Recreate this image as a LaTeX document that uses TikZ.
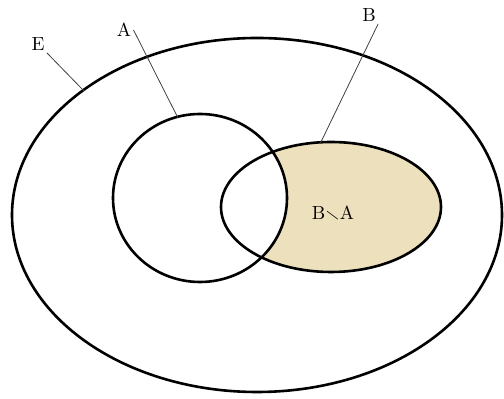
\documentclass[tikz,border=0pt]{standalone}
\usepackage{amssymb}
\usepackage{tikz}
\definecolor{sand}{RGB}{237,224,189}

\begin{document}
\begin{tikzpicture}[x=0.5pt,y=-0.5pt,
  setline/.style={line width=1.3pt},
  leader/.style={line width=0.4pt, black!75},
  lbl/.style={font=\fontsize{9.5}{11}\selectfont, inner sep=1pt}]
\useasboundingbox (0,0) rectangle (504,399);
% shaded part B minus A
\fill[sand] (331,207) ellipse (110 and 65);
\fill[white] (200,198) ellipse (87 and 84);
% the three sets
\draw[setline] (257,215) ellipse (245 and 177);
\draw[setline] (200,198) ellipse (87 and 84);
\draw[setline] (331,207) ellipse (110 and 65);
% labels
\node[lbl] (labE) at (38,44) {E};
\node[lbl] (labA) at (124,30) {A};
\node[lbl] (labB) at (369,15) {B};
\node[lbl] (labBA) at (333,213) {B$\mathord{\smallsetminus}$A};
\coordinate (onE) at (84,91);
\coordinate (onA) at (178,118);
\coordinate (onB) at (320,144);
\draw[leader] (labE.south east) -- (onE);
\draw[leader] (labA.east) -- (onA);
\draw[leader] (labB.south east) -- (onB);
\end{tikzpicture}
\end{document}
